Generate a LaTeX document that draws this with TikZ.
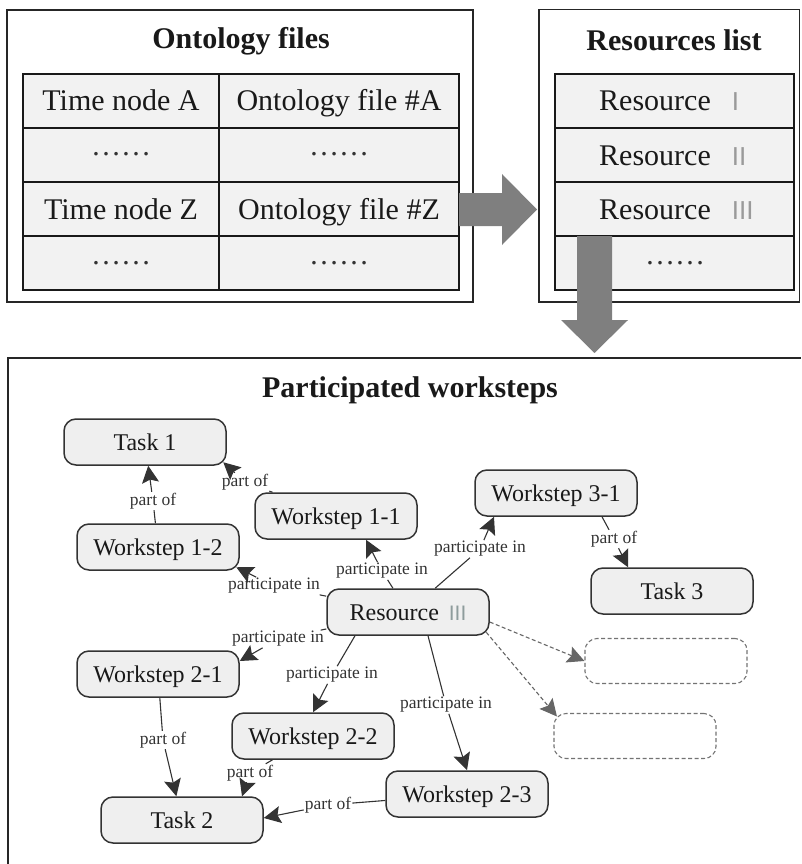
\documentclass[tikz,border=0pt]{standalone}
\usepackage{fontspec}
\setmainfont{Liberation Serif}
\newfontfamily\numfont{Liberation Sans}
\usetikzlibrary{arrows.meta}
\definecolor{cellgray}{HTML}{F2F2F2}
\definecolor{nodegray}{HTML}{EFEFEF}
\definecolor{arrowgray}{HTML}{7F7F7F}
\definecolor{numgray}{HTML}{9A9A9A}
\definecolor{numgreen}{HTML}{8E9C9C}
\newcommand\romn[2][numgray]{{\numfont\color{#1}#2}}
\begin{document}
\begin{tikzpicture}[x=1pt,y=-1pt,
  frame/.style={draw=black!85, line width=1.4pt, fill=white},
  gridline/.style={draw=black!90, line width=1.4pt},
  ttl/.style={font=\fontsize{30}{36}\selectfont\bfseries, text height=20pt, text depth=0pt, inner sep=0pt, text=black!90},
  celltext/.style={font=\fontsize{30}{36}\selectfont, text height=20pt, text depth=0pt, inner sep=0pt, text=black!90},
  dotstext/.style={font=\fontsize{30}{36}\selectfont, inner sep=0pt, text=black!80},
  concept/.style={draw=black!80, line width=1.5pt, fill=nodegray, rounded corners=12pt, minimum width=162pt, minimum height=46pt, inner sep=0pt, font=\fontsize{24}{28}\selectfont, text height=16pt, text depth=0pt, text=black!90},
  ghost/.style={draw=black!55, dash pattern=on 4pt off 2.5pt, line width=1.1pt, rounded corners=12pt, minimum width=162pt, minimum height=45pt, inner sep=0pt},
  lbl/.style={font=\fontsize{17.5}{20}\selectfont, text=black!80, inner sep=1pt},
  link/.style={draw=black!80, line width=1.1pt},
  linkarrow/.style={link, -{Stealth[length=17pt,width=17pt,inset=3pt]}},
  ghostlink/.style={linkarrow, dash pattern=on 4pt off 2.5pt, draw=black!60},
  blockarrow/.style={fill=arrowgray}
]
\useasboundingbox (0,0) rectangle (801,864);

% ---------- Ontology files ----------
\draw[frame] (7,10) rectangle (473,302);
\fill[cellgray] (23,74) rectangle (459,290);
\draw[gridline] (23,74) rectangle (459,290);
\draw[gridline] (23,128) -- (459,128);
\draw[gridline] (23,182) -- (459,182);
\draw[gridline] (23,236) -- (459,236);
\draw[gridline] (219,74) -- (219,290);
\node[ttl] (ontitle) at (241,39) {Ontology files};
\node[celltext] (ta) at (121,101) {Time node A};
\node[celltext] (fa) at (339,101) {Ontology file \#A};
\node[dotstext] (d1) at (121,154) {……};
\node[dotstext] (d2) at (339,154) {……};
\node[celltext] (tz) at (121,209) {Time node Z};
\node[celltext] (fz) at (339,209) {Ontology file \#Z};
\node[dotstext] (d3) at (121,263) {……};
\node[dotstext] (d4) at (339,263) {……};

% ---------- Resources list ----------
\draw[frame] (539,9.5) rectangle (799.5,302);
\fill[cellgray] (555,74) rectangle (794,290);
\draw[gridline] (555,74) rectangle (794,290);
\draw[gridline] (555,128) -- (794,128);
\draw[gridline] (555,182) -- (794,182);
\draw[gridline] (555,236) -- (794,236);
\node[ttl] (restitle) at (674,41) {Resources list};
\node[celltext, anchor=west] (r1) at (599,101) {Resource\hspace{21pt}{\fontsize{26}{30}\selectfont\romn{I}}};
\node[celltext, anchor=west] (r2) at (599,155) {Resource\hspace{21pt}{\fontsize{26}{30}\selectfont\romn{II}}};
\node[celltext, anchor=west] (r3) at (599,209) {Resource\hspace{21pt}{\fontsize{26}{30}\selectfont\romn{III}}};
\node[dotstext] (d5) at (675,263) {……};

% ---------- block arrows ----------
\fill[blockarrow] (459,193) -- (502,193) -- (502,174) -- (537,209.5) -- (502,245) -- (502,226) -- (459,226) -- cycle;
\fill[blockarrow] (577,236) -- (612,236) -- (612,320) -- (628,320) -- (594.5,353) -- (561,320) -- (577,320) -- cycle;

% ---------- Participated worksteps ----------
\draw[black!85, line width=1.4pt] (8,864) -- (8,358) -- (801,358);
\node[ttl] (ptitle) at (410,387) {Participated worksteps};

\node[concept] (task1) at (145,442) {Task 1};
\node[concept] (w12) at (158,547) {Workstep 1-2};
\node[concept] (w11) at (336,516) {Workstep 1-1};
\node[concept] (res) at (408,612) {Resource\hspace{10pt}{\fontsize{21}{24}\selectfont\romn[numgreen]{III}}};
\node[concept] (w31) at (556,493) {Workstep 3-1};
\node[concept] (task3) at (672,591) {Task 3};
\node[ghost] (dash1) at (666,661) {};
\node[ghost] (dash2) at (635,736) {};
\node[concept] (w21) at (158,674) {Workstep 2-1};
\node[concept] (w22) at (313,736) {Workstep 2-2};
\node[concept] (task2) at (182,820) {Task 2};
\node[concept] (w23) at (467,794) {Workstep 2-3};

\node[lbl] (l1) at (153,501) {part of};
\node[lbl] (l2) at (245,482) {part of};
\node[lbl] (l3) at (274,586) {participate in};
\node[lbl] (l4) at (382,571) {participate in};
\node[lbl] (l5) at (480,549) {participate in};
\node[lbl] (l6) at (614,539) {part of};
\node[lbl] (l7) at (278,639) {participate in};
\node[lbl] (l8) at (332,675) {participate in};
\node[lbl] (l9) at (446,705) {participate in};
\node[lbl] (l10) at (163,740) {part of};
\node[lbl] (l11) at (250,773) {part of};
\node[lbl] (l12) at (328,805) {part of};

\draw[link] (w12) -- (l1);
\draw[linkarrow] (l1) -- (task1);
\draw[link] (w11) -- (l2);
\draw[linkarrow] (l2) -- ([xshift=-3.5pt,yshift=3.5pt]task1.south east);
\draw[link] (res) -- (l3);
\draw[linkarrow] (l3) -- ([xshift=-3.5pt,yshift=3.5pt]w12.south east);
\draw[link] (res) -- (l4);
\draw[linkarrow] (l4) -- ([xshift=30pt]w11.south);
\draw[link] (res) -- (l5);
\draw[linkarrow] (l5) -- ([xshift=-62pt]w31.south);
\draw[link] ([xshift=46pt]w31.south) -- (l6);
\draw[linkarrow] (l6) -- ([xshift=-44pt]task3.north);
\draw[link] (res) -- (l7);
\draw[linkarrow] (l7) -- ([yshift=13pt]w21.east);
\draw[link] ([xshift=-53pt]res.south) -- (l8);
\draw[linkarrow] (l8) -- (w22.north);
\draw[link] ([xshift=20pt]res.south) -- (l9);
\draw[linkarrow] (l9) -- (w23.north);
\draw[link] (w21) -- (l10);
\draw[linkarrow] (l10) -- (task2);
\draw[link] (w22) -- (l11);
\draw[linkarrow] (l11) -- ([xshift=60pt]task2.north);
\draw[link] (w23) -- (l12);
\draw[linkarrow] (l12) -- ([yshift=2pt]task2.east);
\draw[ghostlink] ([yshift=-10pt]res.east) -- (dash1.west);
\draw[ghostlink] ([xshift=-3.5pt,yshift=3.5pt]res.south east) -- ([xshift=3.5pt,yshift=-3.5pt]dash2.north west);
\end{tikzpicture}
\end{document}
